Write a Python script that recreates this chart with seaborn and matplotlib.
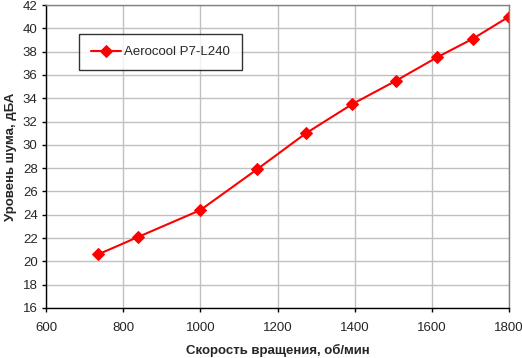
import pandas as pd
import seaborn as sns
import matplotlib.pyplot as plt

# скорость вращения (об/мин) и уровень шума (дБА)
rpm = [735, 839, 1000, 1147, 1274, 1394, 1507, 1613, 1706, 1800]
noise = [20.6, 22.1, 24.4, 27.9, 31.0, 33.5, 35.5, 37.5, 39.1, 41.0]
series_name = 'Aerocool P7-L240'
x_ticks = [600, 800, 1000, 1200, 1400, 1600, 1800]
y_ticks = list(range(16, 43, 2))

df = pd.DataFrame({'rpm': rpm, 'noise': noise, 'model': series_name})

sns.set_style('white')
plt.rcParams['font.family'] = ['Liberation Sans', 'DejaVu Sans']

fig = plt.figure(figsize=(5.22, 3.58), dpi=100)
ax = fig.add_axes([46 / 522, 1 - 308 / 358, 463 / 522, 303 / 358])

sns.lineplot(data=df, x='rpm', y='noise', hue='model', palette=['#ff0000'],
             marker='D', markersize=6.5, markeredgecolor='#ff0000',
             linewidth=1.5, ax=ax)

ax.set_xlim(600, 1800)
ax.set_ylim(16, 42)
ax.set_xticks(x_ticks)
ax.set_yticks(y_ticks)
ax.grid(True, color='#c0c0c0', linewidth=1)
ax.set_axisbelow(True)

for side in ['top', 'right']:
    ax.spines[side].set_color('#808080')
for side in ['left', 'bottom']:
    ax.spines[side].set_color('black')
for s in ax.spines.values():
    s.set_linewidth(1)

ax.tick_params(axis='both', direction='out', length=3, width=1, color='black',
               labelsize=9.5, left=True, bottom=True)
ax.tick_params(axis='x', pad=7)
ax.tick_params(axis='y', pad=3)

ax.set_xlabel('Скорость вращения, об/мин', fontsize=9.5, fontweight='bold', labelpad=7)
ax.set_ylabel('Уровень шума, дБА', fontsize=9.5, fontweight='bold', labelpad=4)

leg = ax.legend(loc='upper left', bbox_to_anchor=(0.0713, 0.904), borderaxespad=0,
                frameon=True, fancybox=False, fontsize=9.5, handlelength=2.3,
                handletextpad=0.2, borderpad=0.9)
leg.get_frame().set_edgecolor('black')
leg.get_frame().set_linewidth(1)

fig.savefig('out.png', dpi=100)
